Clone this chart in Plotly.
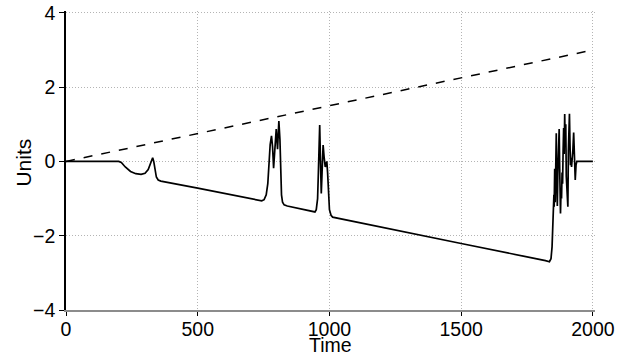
import plotly.graph_objects as go

# Dashed reference line
ref_t = [0, 2000]
ref_u = [0, 3]

# Solid series
sig_t = [0, 200, 210, 225, 245, 265, 285, 300, 312, 320, 326, 329, 333, 338, 343, 350, 360,
         500, 650, 736, 743, 752, 760, 766, 771, 775, 780, 784, 788, 792, 798, 803, 808,
         812, 815, 818, 822, 828, 840, 900, 935, 945, 950, 955, 958, 961, 963, 966, 969,
         972, 976, 980, 984, 988, 990, 993, 996, 1000, 1006, 1012,
         1500, 1800, 1820, 1835, 1841, 1845, 1848, 1850, 1852, 1853, 1855, 1857, 1859,
         1861, 1863, 1865, 1867, 1869, 1872, 1874, 1877, 1879, 1881, 1883, 1885, 1887,
         1889, 1891, 1893, 1895, 1897, 1899, 1902, 1905, 1907, 1909, 1911, 1913, 1915,
         1917, 1919, 1921, 1924, 1927, 1930, 1933, 1936, 1939, 1942, 2000]
sig_u = [0, 0, -0.03, -0.15, -0.27, -0.33, -0.35, -0.32, -0.22, -0.05, 0.08, 0.1, 0.0, -0.25, -0.42, -0.5, -0.53,
         -0.72, -0.93, -1.04, -1.06, -1.03, -0.9, -0.6, 0.0, 0.45, 0.69, 0.4, -0.18, 0.4, 0.87, 0.33, 1.09,
         0.6, -0.3, -0.9, -1.1, -1.17, -1.2, -1.28, -1.33, -1.36, -1.3, -1.0, -0.3, 0.5, 0.98, 0.0, -0.86,
         -0.3, 0.44, 0.1, -0.15, -0.05, 0.0, -0.3, -0.9, -1.3, -1.45, -1.5,
         -2.21, -2.63, -2.67, -2.7, -2.62, -2.3, -1.6, -1.3, -0.9, -1.22, -0.2, -1.1, 0.3,
         0.76, -0.5, -1.2, -0.3, 0.5, 0.87, -0.2, -1.4, -0.8, -1.0, -0.3, -0.6, 0.3,
         0.9, 0.2, 1.28, 0.4, 1.0, -0.4, -0.9, -1.22, 0.3, 0.8, 1.28, 0.5, -0.1,
         0.1, -0.15, 0.0, 0.3, 0.78, 0.0, -0.5, -0.1, 0.0, 0.0, 0.0]

x_ticks = [0, 500, 1000, 1500, 2000]
y_ticks = [-4, -2, 0, 2, 4]
x_title = "Time"
y_title = "Units"

fig = go.Figure()
fig.add_trace(go.Scatter(x=ref_t, y=ref_u, mode="lines",
                         line=dict(color="black", width=1.5, dash="dash"), showlegend=False))
fig.add_trace(go.Scatter(x=sig_t, y=sig_u, mode="lines",
                         line=dict(color="black", width=1.7), showlegend=False))

family = "Liberation Sans, Arial, Helvetica, sans-serif"
tick_font = dict(family=family, size=19.5, color="black")
grid_dash = "1px,2px"
fig.update_layout(
    width=629, height=358,
    margin=dict(l=66, r=34, t=11, b=48),
    paper_bgcolor="white", plot_bgcolor="white",
    font=tick_font,
    xaxis=dict(range=[0, 2008], tickvals=x_ticks, showgrid=True, gridcolor="#b4b4b4",
               griddash=grid_dash, gridwidth=1, zeroline=False, showline=True,
               linecolor="#8c8c8c", linewidth=1.5, ticks="outside", ticklen=4,
               tickcolor="black", automargin=False, tickfont=tick_font,
               ticklabelstandoff=-3),
    yaxis=dict(range=[-4, 4.05], tickvals=y_ticks, showgrid=True, gridcolor="#b4b4b4",
               griddash=grid_dash, gridwidth=1, zeroline=False, showline=True,
               linecolor="black", linewidth=1.5, ticks="outside", ticklen=5,
               tickcolor="black", automargin=False, tickfont=tick_font),
    annotations=[
        dict(text=x_title, xref="paper", yref="paper", x=0.5, y=-0.1605,
             xanchor="center", yanchor="bottom", showarrow=False,
             font=dict(family=family, size=19.5, color="black")),
        dict(text=y_title, xref="paper", yref="paper", x=-0.0794, y=0.493,
             xanchor="center", yanchor="middle", showarrow=False, textangle=-90,
             font=dict(family=family, size=21, color="black")),
    ],
)
fig.write_html("out.html")
